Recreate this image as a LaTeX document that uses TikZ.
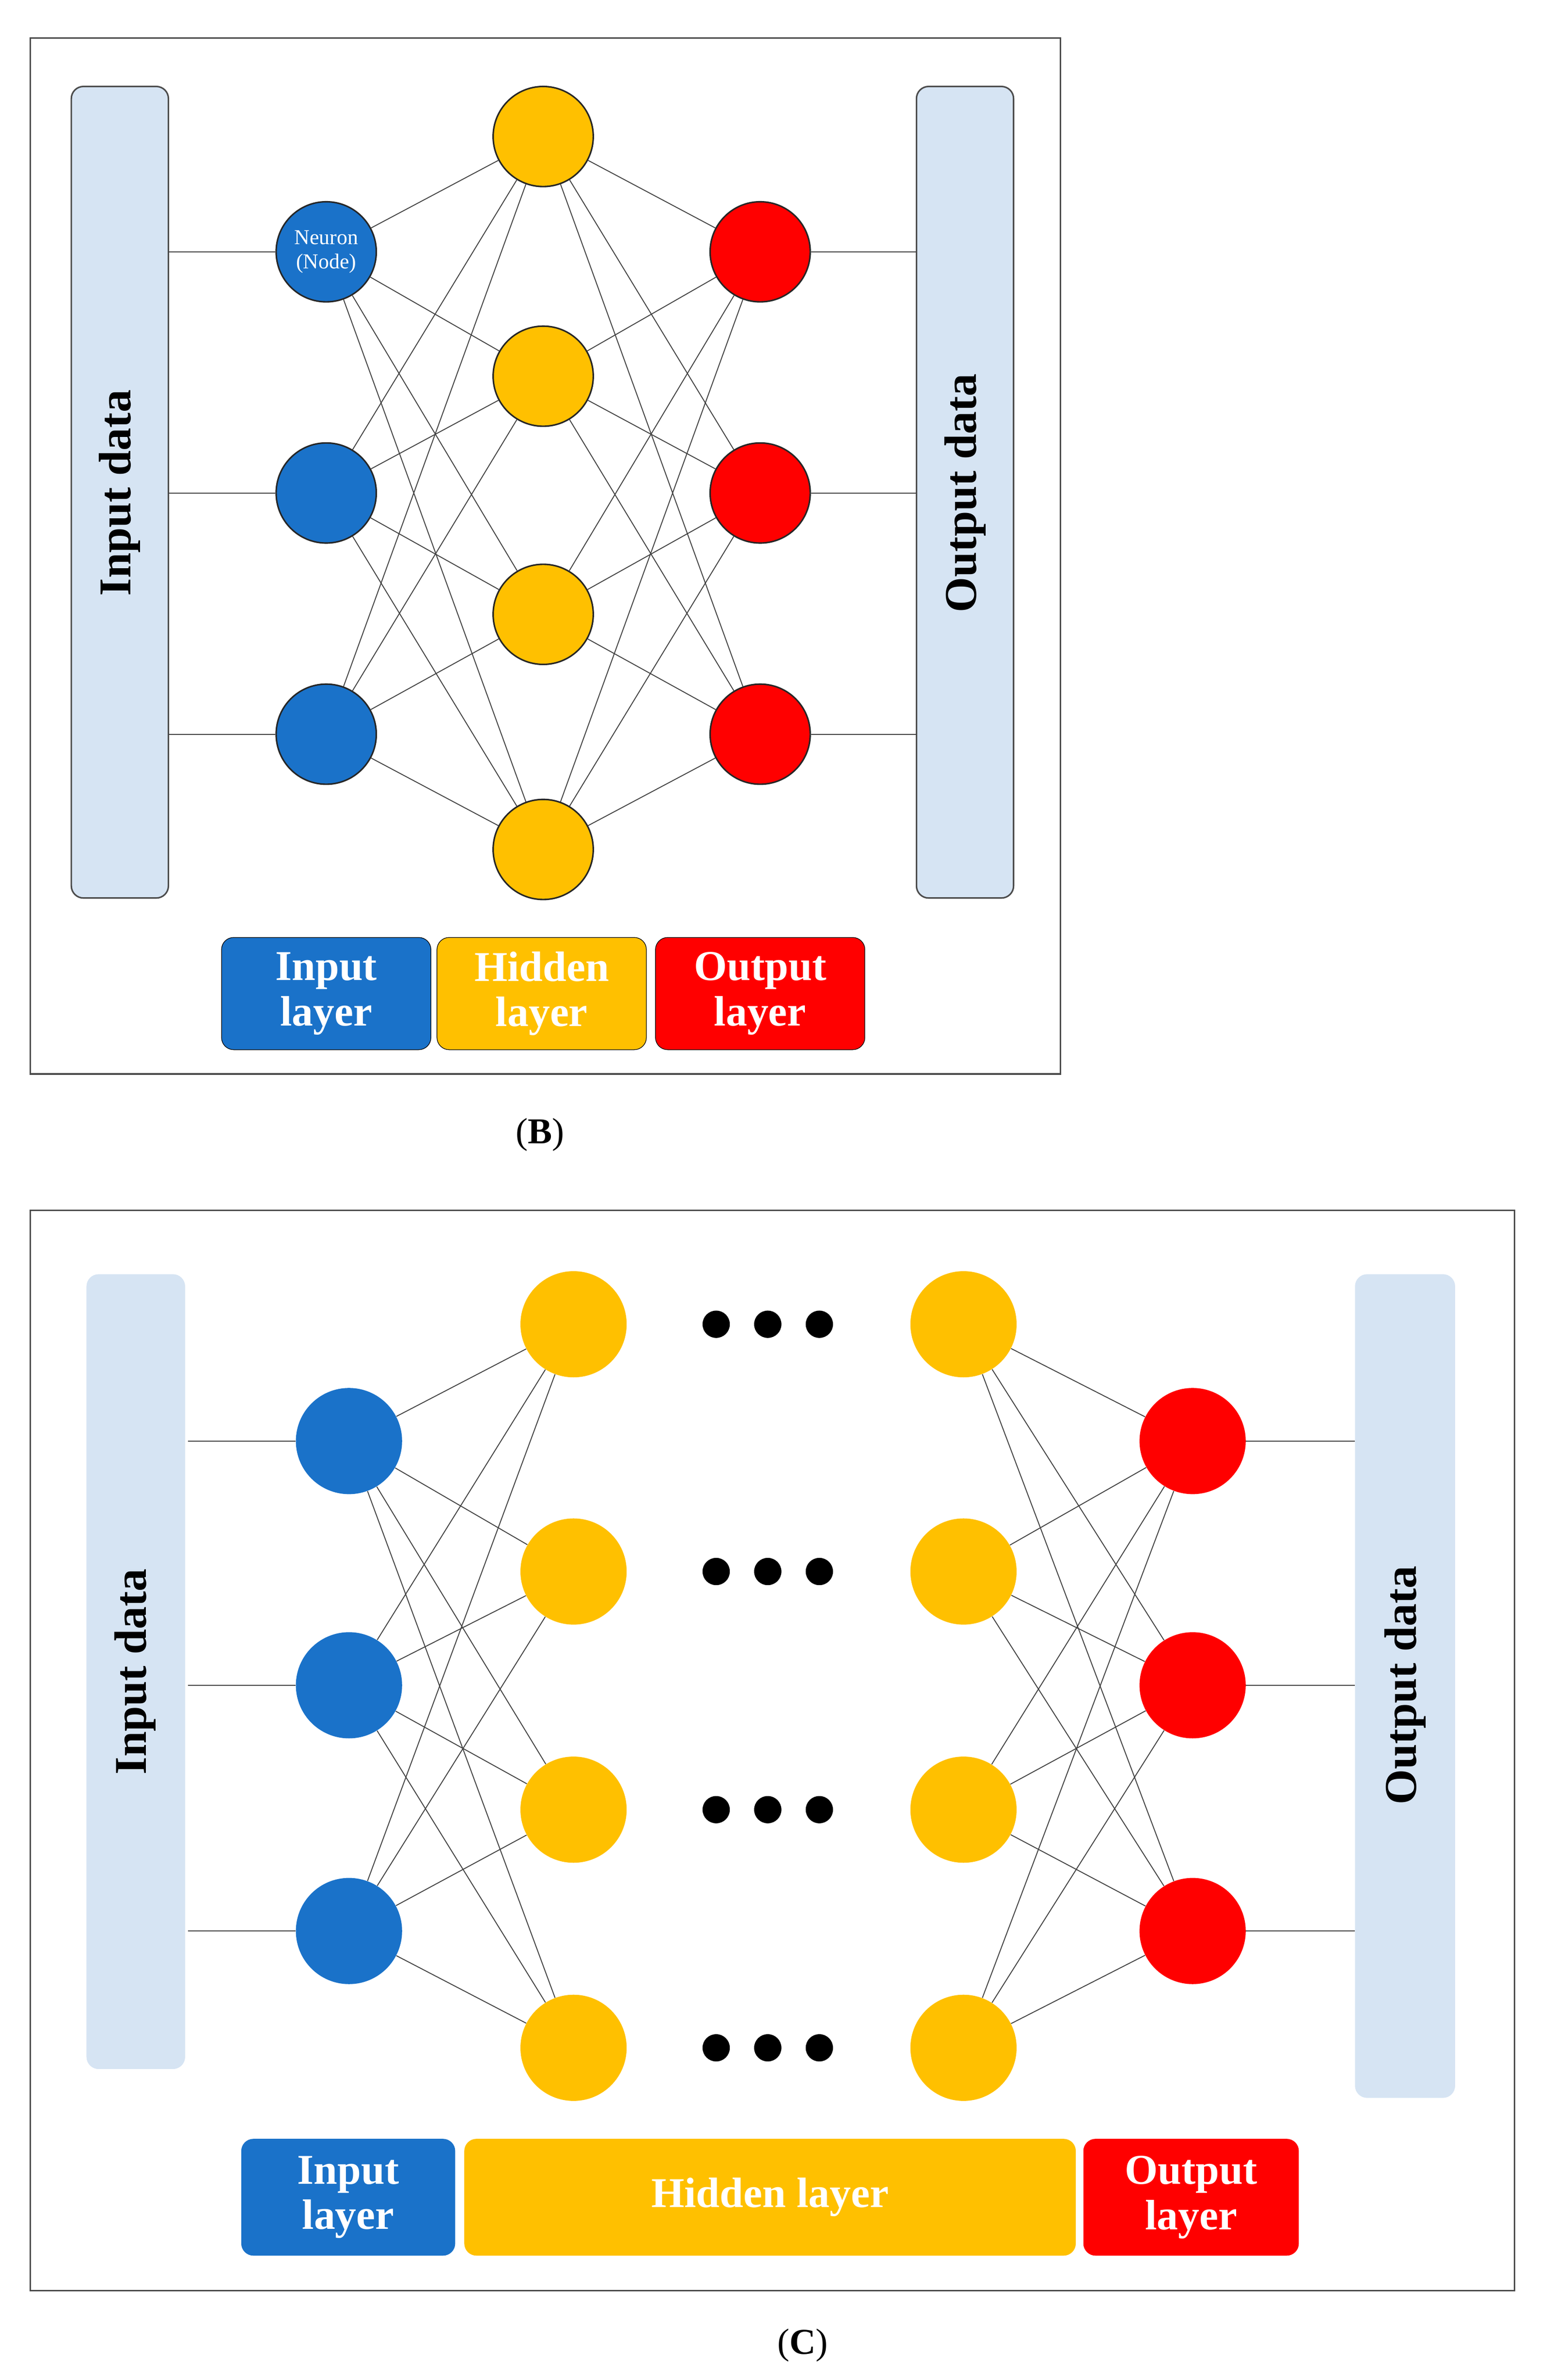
\documentclass[tikz,border=0pt]{standalone}
\usepackage{fontspec}
\setmainfont{Liberation Serif}
\begin{document}
\begin{tikzpicture}[x=1pt,y=-1pt,
 bl/.style={circle,draw=black!85,line width=1pt,fill=blue1,minimum size=66pt,inner sep=0pt},
 yl/.style={circle,draw=black!85,line width=1pt,fill=yel,minimum size=66pt,inner sep=0pt},
 rd/.style={circle,draw=black!85,line width=1pt,fill=red1,minimum size=66pt,inner sep=0pt},
 blc/.style={circle,fill=blue1,minimum size=70pt,inner sep=0pt},
 ylc/.style={circle,fill=yel,minimum size=70pt,inner sep=0pt},
 rdc/.style={circle,fill=red1,minimum size=70pt,inner sep=0pt},
 ln/.style={black!75,line width=0.6pt},
 lab/.style={text=white,font=\fontsize{28}{30}\selectfont\bfseries,align=center},
 bar/.style={font=\fontsize{30}{32}\selectfont\bfseries,rotate=90}]
\definecolor{blue1}{HTML}{1A72C9}
\definecolor{yel}{HTML}{FFC000}
\definecolor{red1}{HTML}{FF0000}
\definecolor{lb}{HTML}{D6E4F3}
\useasboundingbox (0,0) rectangle (1024,1569);
% ===== Panel B =====
\draw[black!70,line width=1pt] (20,25) rectangle (699,708);
\draw[black!70,fill=lb,rounded corners=8pt,line width=1pt] (47,57) rectangle (111,592);
\draw[black!70,fill=lb,rounded corners=8pt,line width=1pt] (604,57) rectangle (668,592);
\node[bar] (bin) at (79,325) {Input data};
\node[bar] (bout) at (636,325) {Output data};
\foreach \i/\y in {1/166,2/325,3/484}{
 \node[bl] (bi\i) at (215,\y) {};
 \node[rd] (bo\i) at (501,\y) {};
 \coordinate (bil\i) at (111,\y);
 \coordinate (bor\i) at (604,\y);
 \draw[ln] (bil\i) -- (bi\i);
 \draw[ln] (bo\i) -- (bor\i);}
\node[text=white,font=\fontsize{14}{16}\selectfont,align=center] at (bi1) {Neuron\\(Node)};
\foreach \j/\y in {1/90,2/248,3/405,4/560}{ \node[yl] (bh\j) at (358,\y) {}; }
\foreach \i in {1,2,3}{\foreach \j in {1,2,3,4}{
 \draw[ln] (bi\i) -- (bh\j); \draw[ln] (bh\j) -- (bo\i);}}
\node[lab,fill=blue1,draw=black,rounded corners=8pt,minimum width=138pt,minimum height=74pt] (lb1) at (215,655) {Input\\layer};
\node[lab,fill=yel,draw=black,rounded corners=8pt,minimum width=138pt,minimum height=74pt] (lb2) at (357,655) {Hidden\\layer};
\node[lab,fill=red1,draw=black,rounded corners=8pt,minimum width=138pt,minimum height=74pt] (lb3) at (501,655) {Output\\layer};
\node[font=\fontsize{24}{26}\selectfont] (capb) at (356,748) {(\textbf{B})};
% ===== Panel C =====
\draw[black!70,line width=1pt] (20,798) rectangle (998,1510);
\fill[lb,rounded corners=8pt] (57,840) rectangle (122,1364);
\fill[lb,rounded corners=8pt] (893,840) rectangle (959,1383);
\node[bar] (cin) at (89,1102) {Input data};
\node[bar] (cout) at (926,1111) {Output data};
\foreach \i/\y in {1/950,2/1111,3/1273}{
 \node[blc] (ci\i) at (230,\y) {};
 \node[rdc] (co\i) at (786,\y) {};
 \coordinate (cil\i) at (124,\y);
 \coordinate (cor\i) at (893,\y);
 \draw[ln] (cil\i) -- (ci\i);
 \draw[ln] (co\i) -- (cor\i);}
\foreach \j/\y in {1/873,2/1036,3/1193,4/1350}{
 \node[ylc] (ch\j) at (378,\y) {};
 \node[ylc] (cr\j) at (635,\y) {};
 \foreach \k/\x in {1/472,2/506,3/540}{\fill (\x,\y) circle (9pt);}}
\foreach \i in {1,2,3}{\foreach \j in {1,2,3,4}{
 \draw[ln] (ci\i) -- (ch\j); \draw[ln] (cr\j) -- (co\i);}}
\node[lab,fill=blue1,rounded corners=8pt,minimum width=141pt,minimum height=77pt] (lc1) at (229.5,1448.5) {Input\\layer};
\node[lab,fill=yel,rounded corners=8pt,minimum width=403pt,minimum height=77pt] (lc2) at (507.5,1448.5) {Hidden layer};
\node[lab,fill=red1,rounded corners=8pt,minimum width=142pt,minimum height=77pt] (lc3) at (785,1448.5) {Output\\layer};
\node[font=\fontsize{24}{26}\selectfont] (capc) at (529,1546) {(\textbf{C})};
\end{tikzpicture}
\end{document}
